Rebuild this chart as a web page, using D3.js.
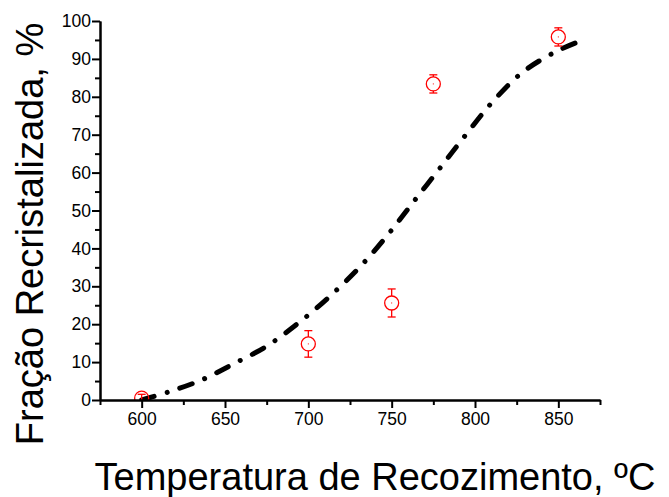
<!DOCTYPE html>
<html>
<head>
<meta charset="utf-8">
<script src="https://cdn.jsdelivr.net/npm/d3@7"></script>
<style>
  body { margin: 0; background: #fff; }
  text { font-family: "Liberation Sans", Arial, sans-serif; }
</style>
</head>
<body>
<script>
// measured points (temperature, % recrystallized, error)
const temps = [600, 700, 750, 775, 850];
const frac = [0.5, 14.8, 25.6, 83.4, 95.8];
const errs = [1, 3.5, 3.7, 2.4, 2.4];

// fitted curve
const curveT = [600, 616, 636, 655, 675, 694, 713, 732, 749, 764, 779, 794, 810, 828, 848, 862];
const curveF = [0, 2.1, 5.3, 9.5, 14.2, 20.3, 27.4, 35.6, 44.3, 52.8, 61.2, 69.7, 78.4, 86.3, 91.8, 94.5];

const xMajor = [600, 650, 700, 750, 800, 850];
const xMinor = [575, 625, 675, 725, 775, 825, 875];
const yMajor = [0, 10, 20, 30, 40, 50, 60, 70, 80, 90, 100];
const yMinor = [5, 15, 25, 35, 45, 55, 65, 75, 85, 95];

const svg = d3.select('body')
  .append('svg')
  .attr('width', 669)
  .attr('height', 497);

const x = d3.scaleLinear().domain([575, 875]).range([100, 600]);
const y = d3.scaleLinear().domain([0, 100]).range([400, 21]);

svg.append("defs").append("clipPath")
  .attr("id", "plot")
  .append("rect")
  .attr("x", 100).attr("y", 0)
  .attr("width", 520).attr("height", 400);

// fitted curve
const line = d3.line()
  .x((d, i) => x(curveT[i]))
  .y((d, i) => y(curveF[i]))
  .curve(d3.curveCatmullRom);

svg.append("path")
  .attr("d", line(curveT))
  .attr("fill", "none")
  .attr("stroke", "#000")
  .attr("stroke-width", 5)
  .attr("stroke-linecap", "round")
  .attr("stroke-dasharray", "13,13.5,0.01,13.5")
  .attr("clip-path", "url(#plot)");

// points with error bars
const r = 7;
const pts = svg.append("g")
  .attr("clip-path", "url(#plot)")
  .attr("stroke", "#ff0000")
  .attr("stroke-width", 1.3)
  .attr("fill", "none");

temps.forEach((t, i) => {
  const cx = x(t), cy = y(frac[i]);
  const top = y(frac[i] + errs[i]), bot = y(frac[i] - errs[i]);
  if (cy - top > r) {
    pts.append("line").attr("x1", cx).attr("x2", cx).attr("y1", top).attr("y2", cy - r);
    pts.append("line").attr("x1", cx).attr("x2", cx).attr("y1", cy + r).attr("y2", bot);
  } else {
    pts.append("line").attr("x1", cx).attr("x2", cx).attr("y1", top).attr("y2", bot);
  }
  pts.append("line").attr("x1", cx - 4).attr("x2", cx + 4).attr("y1", top).attr("y2", top);
  pts.append("line").attr("x1", cx - 4).attr("x2", cx + 4).attr("y1", bot).attr("y2", bot);
  pts.append("circle").attr("cx", cx).attr("cy", cy).attr("r", r);
  pts.append("rect").attr("x", cx - 0.5).attr("y", cy - 0.5)
    .attr("width", 1).attr("height", 1)
    .attr("fill", "#ff0000").attr("stroke", "none");
});

// axes
function styleAxis(g) {
  g.selectAll("path").attr("stroke", "#000").attr("stroke-width", 2);
  g.selectAll("line").attr("stroke", "#000").attr("stroke-width", 2);
  g.selectAll("text").attr("fill", "#000").style("font-size", "17.5px")
    .style("font-family", "Liberation Sans, Arial, sans-serif");
}

svg.append("g")
  .attr("transform", "translate(0,400)")
  .call(d3.axisBottom(x).tickValues(xMinor).tickSize(5).tickFormat("").tickSizeOuter(0))
  .call(styleAxis);

svg.append("g")
  .attr("transform", "translate(0,400)")
  .call(d3.axisBottom(x).tickValues(xMajor).tickSize(8).tickPadding(5).tickSizeOuter(0))
  .call(styleAxis);

svg.append("g")
  .attr("transform", "translate(100,0)")
  .call(d3.axisLeft(y).tickValues(yMinor).tickSize(5).tickFormat("").tickSizeOuter(0))
  .call(styleAxis);

svg.append("g")
  .attr("transform", "translate(100,0)")
  .call(d3.axisLeft(y).tickValues(yMajor).tickSize(8).tickPadding(1).tickSizeOuter(0))
  .call(styleAxis);

// axis titles
svg.append("text")
  .attr("x", 375)
  .attr("y", 490)
  .attr("text-anchor", "middle")
  .style("font-size", "38px")
  .text("Temperatura de Recozimento, ºC");

svg.append("text")
  .attr("transform", "translate(43,234) rotate(-90)")
  .attr("text-anchor", "middle")
  .style("font-size", "38px")
  .text("Fração Recristalizada, %");
</script>
</body>
</html>
